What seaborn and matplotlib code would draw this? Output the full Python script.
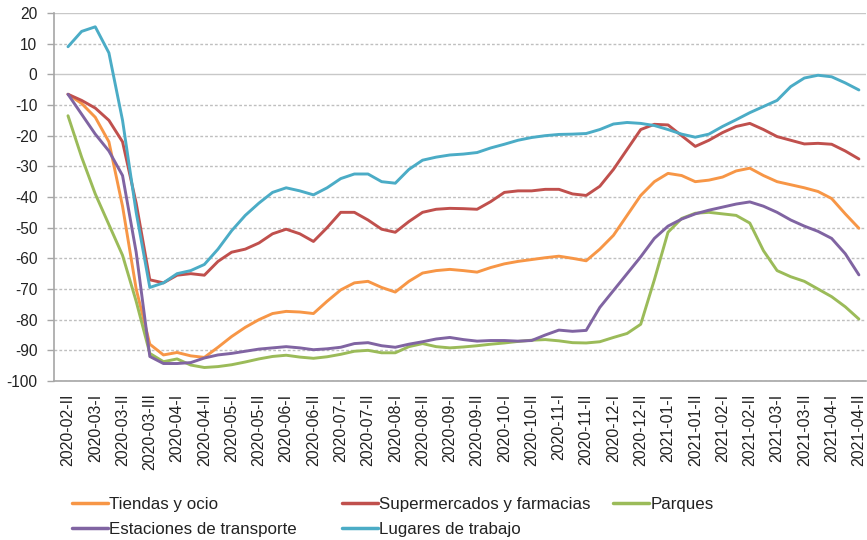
import numpy as np
import pandas as pd
import matplotlib
matplotlib.use("Agg")
import matplotlib.pyplot as plt
import seaborn as sns

# x tick labels (half-month periods)
periodos = [
    "2020-02-II", "2020-03-I", "2020-03-II", "2020-03-III", "2020-04-I", "2020-04-II",
    "2020-05-I", "2020-05-II", "2020-06-I", "2020-06-II", "2020-07-I", "2020-07-II",
    "2020-08-I", "2020-08-II", "2020-09-I", "2020-09-II", "2020-10-I", "2020-10-II",
    "2020-11-I", "2020-11-II", "2020-12-I", "2020-12-II", "2021-01-I", "2021-01-II",
    "2021-02-I", "2021-02-II", "2021-03-I", "2021-03-II", "2021-04-I", "2021-04-II",
]

# values read every half period (59 points per series)
tiendas = [
    -6.5, -9.5, -14, -22, -43, -70, -88, -91.5, -90.7, -91.8,
    -92.3, -89, -85.5, -82.5, -80, -78, -77.3, -77.5, -78, -74,
    -70.3, -68, -67.5, -69.5, -71, -67.5, -64.8, -64, -63.6, -64,
    -64.5, -63, -61.8, -61, -60.4, -59.8, -59.3, -60, -60.8, -57,
    -52.5, -46, -39.5, -35, -32.3, -33, -35, -34.5, -33.5, -31.5,
    -30.6, -33, -35, -36, -37, -38.2, -40.5, -45.5, -50.2,
]
supermercados = [
    -6.5, -8.5, -11, -15, -22, -42, -67, -68, -65.5, -65,
    -65.5, -61, -58, -57, -55, -52, -50.5, -52, -54.5, -50,
    -45, -45, -47.5, -50.5, -51.5, -48, -45, -44, -43.7, -43.8,
    -44, -41.5, -38.5, -38, -38, -37.5, -37.5, -39, -39.5, -36.5,
    -31, -24.5, -18, -16.3, -16.5, -20, -23.5, -21.5, -19, -17,
    -16, -18, -20.3, -21.5, -22.7, -22.5, -22.8, -25, -27.6,
]
parques = [
    -13.5, -27, -39, -49, -59, -74, -91, -93.7, -92.8, -94.8,
    -95.6, -95.3, -94.7, -93.8, -92.8, -92, -91.6, -92.2, -92.6, -92.1,
    -91.3, -90.3, -90, -90.8, -90.8, -88.8, -87.8, -88.8, -89.2, -88.9,
    -88.5, -88, -87.6, -87.1, -86.7, -86.5, -86.9, -87.5, -87.6, -87.2,
    -85.8, -84.5, -81.5, -67, -51.5, -47, -45.3, -45, -45.5, -46,
    -48.5, -57.5, -64, -66, -67.5, -70, -72.5, -75.8, -79.8,
]
estaciones = [
    -6.5, -13, -19.5, -25, -33, -58, -92, -94.3, -94.3, -94,
    -92.5, -91.5, -91, -90.3, -89.6, -89.2, -88.8, -89.2, -89.8, -89.5,
    -89, -87.8, -87.5, -88.5, -89, -88, -87.2, -86.3, -85.8, -86.5,
    -87, -86.8, -86.8, -87, -86.8, -85, -83.4, -83.8, -83.5, -76,
    -70.5, -65, -59.5, -53.5, -49.5, -47.2, -45.5, -44.3, -43.3, -42.3,
    -41.6, -43, -45, -47.5, -49.5, -51.2, -53.5, -58.5, -65.4,
]
lugares = [
    9, 14, 15.5, 7, -15, -45, -69.5, -68, -65, -64,
    -62, -57, -51, -46, -42, -38.5, -37, -38, -39.3, -37,
    -34, -32.5, -32.5, -35, -35.5, -31, -28, -27, -26.3, -26,
    -25.5, -24, -22.8, -21.5, -20.6, -20, -19.6, -19.5, -19.3, -18,
    -16.2, -15.7, -16, -16.7, -18, -19.5, -20.5, -19.5, -17, -14.8,
    -12.5, -10.5, -8.5, -4, -1.2, -0.3, -0.8, -2.8, -5.1,
]

series = {
    "Tiendas y ocio": tiendas,
    "Supermercados y farmacias": supermercados,
    "Parques": parques,
    "Estaciones de transporte": estaciones,
    "Lugares de trabajo": lugares,
}
colores = {
    "Tiendas y ocio": "#F79646",
    "Supermercados y farmacias": "#C0504D",
    "Parques": "#9BBB59",
    "Estaciones de transporte": "#8064A2",
    "Lugares de trabajo": "#4BACC6",
}

rows = []
for name, vals in series.items():
    for i, v in enumerate(vals):
        rows.append({"periodo": i * 0.5, "valor": v, "serie": name})
df = pd.DataFrame(rows)

sns.set_theme(style="white")
plt.rcParams["font.family"] = ["Liberation Sans", "DejaVu Sans"]
plt.rcParams["axes.unicode_minus"] = False

fig = plt.figure(figsize=(8.67, 5.40), dpi=100)
ax = fig.add_axes([54 / 867, 1 - 381 / 540, 812 / 867, 368 / 540])

sns.lineplot(data=df, x="periodo", y="valor", hue="serie", hue_order=list(series.keys()),
             palette=colores, linewidth=2.1, ax=ax, legend=True)
for ln in ax.lines:
    ln.set_solid_joinstyle("round")
    ln.set_solid_capstyle("round")

ax.set_xlim(-0.513, 29.26)
ax.set_ylim(-100, 20)
ax.set_yticks(np.arange(-100, 21, 10))
ax.set_xticks(np.arange(len(periodos)))
ax.set_xticklabels(periodos, rotation=90, fontsize=11.4, color="#222222")
ax.tick_params(axis="y", labelsize=11.2, labelcolor="#222222", length=5, width=1,
               color="#A6A6A6", direction="out", left=True, pad=7)
ax.tick_params(axis="x", length=0, pad=9)
ax.set_xlabel("")
ax.set_ylabel("")

ax.grid(axis="y", color="#BFBFBF", linewidth=1.0, linestyle=(0, (2, 1.5)))
ax.set_axisbelow(True)
for val, gl in zip(ax.get_yticks(), ax.yaxis.get_gridlines()):
    if val in (0, 20):
        gl.set_linestyle("-")
        gl.set_color("#C8C8C8")

for side in ("top", "right"):
    ax.spines[side].set_visible(False)
for side in ("left", "bottom"):
    ax.spines[side].set_color("#A6A6A6")
    ax.spines[side].set_linewidth(1.2)

handles, labels = ax.get_legend_handles_labels()
ax.get_legend().remove()
hmap = dict(zip(labels, handles))
for h in handles:
    h.set_linewidth(2.5)

# legend laid out in three fixed-width columns like the original
columnas = [
    (72, ["Tiendas y ocio", "Estaciones de transporte"]),
    (342, ["Supermercados y farmacias", "Lugares de trabajo"]),
    (613, ["Parques"]),
]
for xpix, names in columnas:
    fig.legend([hmap[n] for n in names], names, loc="upper left",
               bbox_to_anchor=(xpix / 867, 1 - 497 / 540), frameon=False,
               fontsize=12.2, handlelength=2.1, handletextpad=0.1, borderpad=0,
               borderaxespad=0, labelspacing=0.6, labelcolor="#222222")

fig.savefig("out.png", dpi=100)
